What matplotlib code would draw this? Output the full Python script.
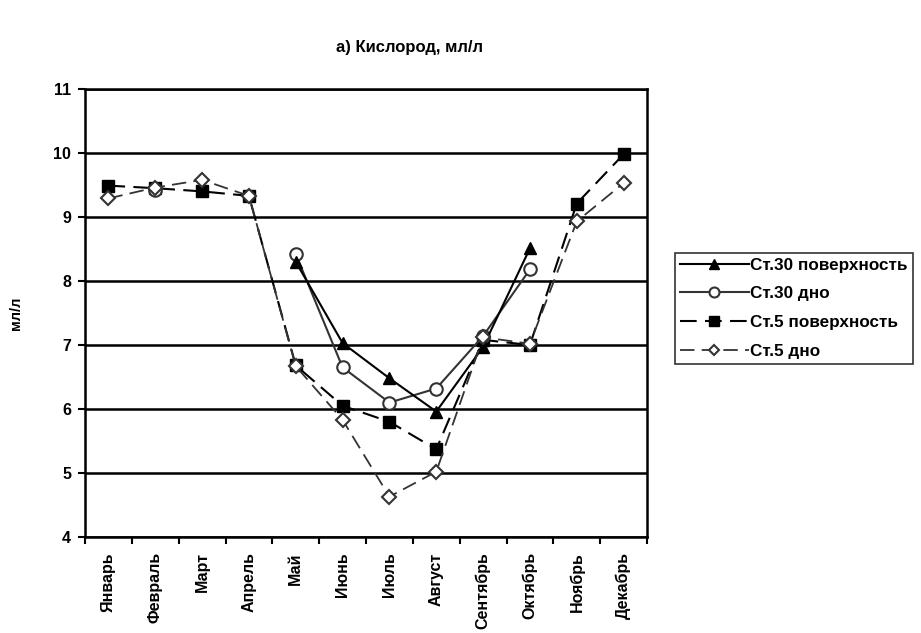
import matplotlib.pyplot as plt
import numpy as np

plt.rcParams['font.family'] = ['Liberation Sans', 'DejaVu Sans']
plt.rcParams['font.weight'] = 'bold'

# Data
months = ['Январь', 'Февраль', 'Март', 'Апрель', 'Май', 'Июнь', 'Июль',
          'Август', 'Сентябрь', 'Октябрь', 'Ноябрь', 'Декабрь']
nan = np.nan
st30_surf = [nan, nan, nan, nan, 8.30, 7.03, 6.48, 5.96, 6.97, 8.51, nan, nan]
st30_bot = [nan, 9.42, nan, nan, 8.42, 6.65, 6.10, 6.32, 7.14, 8.18, nan, nan]
st5_surf = [9.49, 9.45, 9.40, 9.33, 6.68, 6.05, 5.80, 5.37, 7.08, 7.00, 9.21, 9.98]
st5_bot = [9.29, 9.46, 9.58, 9.33, 6.67, 5.83, 4.63, 5.02, 7.12, 7.02, 8.93, 9.53]

fig = plt.figure(figsize=(9.21, 6.33), dpi=100)
ax = fig.add_axes([0.0923, 0.1517, 0.6102, 0.7077])

x = np.arange(len(months))

ax.plot(x, st30_surf, '-', color='black', lw=1.5, marker='^', ms=9,
        mfc='black', mec='black', label='Ст.30 поверхность', zorder=5)
ax.plot(x, st30_bot, '-', color='#333333', lw=1.5, marker='o', ms=9,
        mfc='white', mec='#333333', mew=1.5, label='Ст.30 дно', zorder=4)
ax.plot(x, st5_surf, '--', color='black', lw=1.5, dashes=(8, 4), marker='s', ms=9,
        mfc='black', mec='black', label='Ст.5 поверхность', zorder=3)
ax.plot(x, st5_bot, '--', color='#333333', lw=1.3, dashes=(8, 4), marker='D', ms=7,
        mfc='white', mec='#333333', mew=1.5, label='Ст.5 дно', zorder=6)

ax.set_ylim(4, 11)
ax.set_yticks(range(4, 12))
ax.yaxis.grid(True, color='black', lw=1.8)
ax.set_axisbelow(True)

ax.set_xlim(-0.5, 11.5)
ax.set_xticks(np.arange(-0.5, 12, 1))
ax.set_xticklabels([])
ax.set_xticks(x, minor=True)
ax.set_xticklabels(months, minor=True, rotation=90, fontsize=11.5, fontweight='bold')
ax.tick_params(axis='x', which='minor', length=0, pad=11)
ax.tick_params(axis='x', which='major', direction='out', length=5, width=1.5)
ax.tick_params(axis='y', direction='out', length=5, width=1.5, labelsize=11.5, pad=5)
for lab in ax.get_yticklabels():
    lab.set_fontweight('bold')
for s in ax.spines.values():
    s.set_linewidth(1.8)

ax.set_ylabel('мл/л', fontsize=10.5, fontweight='bold', labelpad=22)

fig.text(0.445, 0.925, 'а) Кислород, мл/л', ha='center', va='center',
         fontsize=12, fontweight='bold')

leg = fig.legend(loc='upper left', bbox_to_anchor=(0.733, 0.601),
                 frameon=True, fancybox=False, edgecolor='black',
                 prop={'size': 12.3, 'weight': 'bold'}, handlelength=4.0,
                 handletextpad=0.1, borderpad=0.3, labelspacing=0.8,
                 borderaxespad=0, markerscale=0.8)
leg.get_frame().set_linewidth(1.2)

fig.savefig('out.png', dpi=100)
